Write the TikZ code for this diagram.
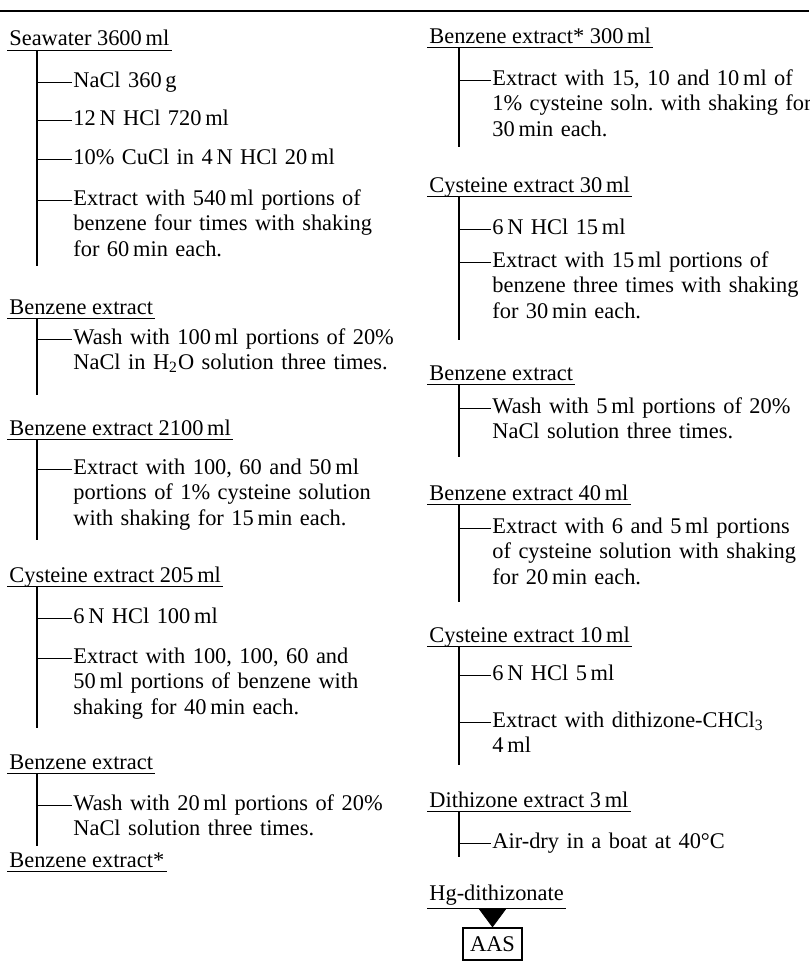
\documentclass[tikz,border=0pt]{standalone}
\usepackage{fontspec}
\setmainfont{Liberation Serif}
\usetikzlibrary{arrows.meta}

\tikzset{
  head/.style={anchor=base west, inner xsep=1pt, inner ysep=0pt, text depth=2pt},
  stage/.style={anchor=base west, text width=190pt, inner xsep=0.5pt, inner ysep=0pt},
  uline/.style={line width=0.7pt},
  trunk/.style={line width=0.9pt},
  tick/.style={line width=0.5pt},
}

\begin{document}
\begin{tikzpicture}[x=0.5pt, y=-0.5pt, font=\fontsize{11.2}{12.75}\selectfont\frenchspacing]
\def\ha{7}   % left column heads
\def\ta{37}  % left trunk
\def\sa{72}  % left steps
\def\hb{427}
\def\tb{459}
\def\sb{491}

\useasboundingbox (0,0) rectangle (809,969);
\draw[line width=0.7pt] (0,11) -- (809,11);

% left column
\node[head] (sea) at (\ha,46) {Seawater 3600\,ml};
\draw[uline] (sea.south west) -- (sea.south east);
\coordinate (e1) at (\ta,266);
\draw[trunk] (sea.south -| e1) -- (e1);
\node[stage] (a1) at (\sa,87) {NaCl 360\,g};
\node[stage] (a2) at (\sa,125) {12\,N HCl 720\,ml};
\node[stage] (a3) at (\sa,164) {10\% CuCl in 4\,N HCl 20\,ml};
\node[stage] (a4) at (\sa,205) {Extract with 540\,ml portions of\\benzene four times with shaking\\for 60\,min each.};
\draw[tick] (a1.mid west -| e1) -- (a1.mid west);
\draw[tick] (a2.mid west -| e1) -- (a2.mid west);
\draw[tick] (a3.mid west -| e1) -- (a3.mid west);
\draw[tick] (a4.mid west -| e1) -- (a4.mid west);

\node[head] (bzA) at (\ha,314) {Benzene extract};
\draw[uline] (bzA.south west) -- (bzA.south east);
\coordinate (e2) at (\ta,395);
\draw[trunk] (bzA.south -| e2) -- (e2);
\node[stage] (a5) at (\sa,344) {Wash with 100\,ml portions of 20\%\\NaCl in H\textsubscript{2}O solution three times.};
\draw[tick] (a5.mid west -| e2) -- (a5.mid west);

\node[head] (bzB) at (\ha,435) {Benzene extract 2100\,ml};
\draw[uline] (bzB.south west) -- (bzB.south east);
\coordinate (e3) at (\ta,540);
\draw[trunk] (bzB.south -| e3) -- (e3);
\node[stage] (a6) at (\sa,474) {Extract with 100, 60 and 50\,ml\\portions of 1\% cysteine solution\\with shaking for 15\,min each.};
\draw[tick] (a6.mid west -| e3) -- (a6.mid west);

\node[head] (cysA) at (\ha,582) {Cysteine extract 205\,ml};
\draw[uline] (cysA.south west) -- (cysA.south east);
\coordinate (e4) at (\ta,728);
\draw[trunk] (cysA.south -| e4) -- (e4);
\node[stage] (a7) at (\sa,623) {6\,N HCl 100\,ml};
\node[stage] (a8) at (\sa,663) {Extract with 100, 100, 60 and\\50\,ml portions of benzene with\\shaking for 40\,min each.};
\draw[tick] (a7.mid west -| e4) -- (a7.mid west);
\draw[tick] (a8.mid west -| e4) -- (a8.mid west);

\node[head] (bzC) at (\ha,769) {Benzene extract};
\draw[uline] (bzC.south west) -- (bzC.south east);
\coordinate (e5) at (\ta,846);
\draw[trunk] (bzC.south -| e5) -- (e5);
\node[stage] (a9) at (\sa,810) {Wash with 20\,ml portions of 20\%\\NaCl solution three times.};
\draw[tick] (a9.mid west -| e5) -- (a9.mid west);

\node[head] (bzD) at (\ha,867) {Benzene extract*};
\draw[uline] (bzD.south west) -- (bzD.south east);

% right column
\node[head] (bzE) at (\hb,43) {Benzene extract* 300\,ml};
\draw[uline] (bzE.south west) -- (bzE.south east);
\coordinate (f1) at (\tb,147);
\draw[trunk] (bzE.south -| f1) -- (f1);
\node[stage] (b1) at (\sb,85) {Extract with 15, 10 and 10\,ml of\\1\% cysteine soln. with shaking for\\30\,min each.};
\draw[tick] (b1.mid west -| f1) -- (b1.mid west);

\node[head] (cysB) at (\hb,192) {Cysteine extract 30\,ml};
\draw[uline] (cysB.south west) -- (cysB.south east);
\coordinate (f2) at (\tb,340);
\draw[trunk] (cysB.south -| f2) -- (f2);
\node[stage] (b2) at (\sb,234) {6\,N HCl 15\,ml};
\node[stage] (b3) at (\sb,267) {Extract with 15\,ml portions of\\benzene three times with shaking\\for 30\,min each.};
\draw[tick] (b2.mid west -| f2) -- (b2.mid west);
\draw[tick] (b3.mid west -| f2) -- (b3.mid west);

\node[head] (bzF) at (\hb,380) {Benzene extract};
\draw[uline] (bzF.south west) -- (bzF.south east);
\coordinate (f3) at (\tb,457);
\draw[trunk] (bzF.south -| f3) -- (f3);
\node[stage] (b4) at (\sb,413) {Wash with 5\,ml portions of 20\%\\NaCl solution three times.};
\draw[tick] (b4.mid west -| f3) -- (b4.mid west);

\node[head] (bzG) at (\hb,500) {Benzene extract 40\,ml};
\draw[uline] (bzG.south west) -- (bzG.south east);
\coordinate (f4) at (\tb,602);
\draw[trunk] (bzG.south -| f4) -- (f4);
\node[stage] (b5) at (\sb,533) {Extract with 6 and 5\,ml portions\\of cysteine solution with shaking\\for 20\,min each.};
\draw[tick] (b5.mid west -| f4) -- (b5.mid west);

\node[head] (cysC) at (\hb,642) {Cysteine extract 10\,ml};
\draw[uline] (cysC.south west) -- (cysC.south east);
\coordinate (f5) at (\tb,765);
\draw[trunk] (cysC.south -| f5) -- (f5);
\node[stage] (b6) at (\sb,680) {6\,N HCl 5\,ml};
\node[stage] (b7) at (\sb,727) {Extract with dithizone-CHCl\textsubscript{3}\\4\,ml};
\draw[tick] (b6.mid west -| f5) -- (b6.mid west);
\draw[tick] (b7.mid west -| f5) -- (b7.mid west);

\node[head] (dtz) at (\hb,807) {Dithizone extract 3\,ml};
\draw[uline] (dtz.south west) -- (dtz.south east);
\coordinate (f6) at (\tb,857);
\draw[trunk] (dtz.south -| f6) -- (f6);
\node[stage] (b8) at (\sb,848) {Air-dry in a boat at 40°C};
\draw[tick] (b8.mid west -| f6) -- (b8.mid west);

\node[head, text depth=4pt] (hg) at (\hb,900) {Hg-dithizonate};
\draw[uline] (hg.south west) -- (hg.south east);
\node[draw, line width=0.6pt, minimum width=29.5pt, minimum height=16pt, inner sep=1pt] (aas) at (492.5,944) {AAS};
\draw[line width=0.4pt, -{Triangle[width=14pt, length=9.5pt]}] (hg.south -| aas.north) -- (aas.north);
\end{tikzpicture}
\end{document}
